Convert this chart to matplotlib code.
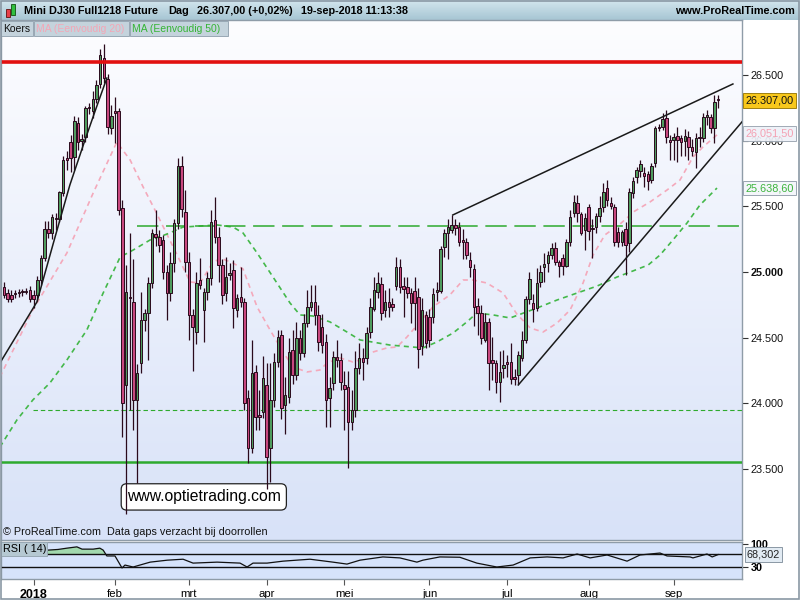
import numpy as np
import pandas as pd
import matplotlib
matplotlib.use('Agg')
import matplotlib.pyplot as plt
from matplotlib.patches import Rectangle

plt.rcParams['font.family'] = ['Liberation Sans', 'DejaVu Sans']

# ---- data ----
dates = pd.bdate_range('2017-12-19', '2018-09-19').drop(
    pd.to_datetime(['2017-12-25', '2018-01-01', '2018-03-30']))

opens = [24888, 24838, 24825, 24835, 24840, 24845, 24848, 24863, 24825, 24825,
         24940, 25110, 25327, 25300, 25400, 25400, 25600, 25865, 25990, 25875,
         26134, 26000, 26027, 26245, 26225, 26316, 26430, 26628, 26469, 26095,
         26225, 26225, 25487, 24140, 24810, 24772, 24026, 24307, 24635, 24688,
         24916, 25290, 25266, 25243, 25000, 24840, 25068, 25373, 25807, 25457,
         25076, 24673, 24543, 24940, 24711, 24848, 24955, 25396, 25266, 25053,
         24840, 24975, 25015, 24711, 24810, 24770, 24041, 23661, 24239, 23905,
         23935, 24140, 23661, 24026, 24315, 24521, 23988, 24049, 24406, 24216,
         24498, 24384, 24612, 24733, 24772, 24673, 24581, 24467, 24041, 24155,
         24353, 24330, 24140, 24125, 23858, 23950, 24269, 24345, 24345, 24543,
         24718, 24848, 24909, 24711, 24772, 24756, 24893, 25038, 24893, 24886,
         24840, 24855, 24810, 24437, 24673, 24657, 24657, 24850, 24855, 25190,
         25297, 25320, 25358, 25342, 25240, 25228, 25091, 25023, 24741, 24688,
         24483, 24619, 24330, 24307, 24163, 24269, 24315, 24315, 24200, 24216,
         24345, 24483, 24795, 24764, 24726, 24924, 25038, 25068, 25129, 25183,
         25076, 25107, 25046, 25228, 25449, 25525, 25441, 25320, 25495, 25330,
         25342, 25426, 25495, 25640, 25525, 25495, 25305, 25228, 25327, 25221,
         25601, 25723, 25769, 25753, 25746, 25700, 25829, 26096, 26103, 26172,
         26005, 26005, 26035, 26020, 25997, 26027, 25951, 25913, 26020, 26020,
         26180, 26180, 26096, 26320]
highs = [24920, 24870, 24860, 24860, 24870, 24870, 24880, 24890, 24860, 24970,
         25130, 25390, 25390, 25440, 25450, 25620, 25880, 25920, 26040, 26190,
         26180, 26050, 26260, 26290, 26380, 26460, 26700, 26735, 26510, 26270,
         26330, 26250, 25550, 25050, 25297, 25100, 24300, 24850, 24720, 24960,
         25330, 25472, 25320, 25280, 25050, 25150, 25400, 25868, 25880, 25624,
         25150, 24720, 25000, 25107, 24880, 25000, 25470, 25571, 25340, 25100,
         25114, 25070, 25090, 24830, 25040, 24800, 24100, 24483, 24290, 24100,
         24360, 24310, 24307, 24380, 24560, 24560, 24200, 24500, 24560, 24620,
         24560, 24680, 24863, 24900, 24900, 24750, 24680, 24530, 24200, 24400,
         24483, 24380, 24250, 24250, 24100, 24400, 24460, 24420, 24580, 24802,
         24960, 25000, 24960, 24860, 24880, 24800, 25114, 25100, 24960, 24960,
         24880, 24960, 24880, 24800, 24700, 24720, 24880, 24920, 25200, 25330,
         25400, 25434, 25400, 25380, 25330, 25260, 25150, 25060, 24800, 24750,
         24690, 24650, 24505, 24330, 24400, 24406, 24370, 24460, 24260, 24400,
         24550, 24820, 25000, 24830, 25030, 25050, 25145, 25160, 25221, 25230,
         25090, 25140, 25250, 25472, 25586, 25586, 25460, 25450, 25520, 25400,
         25450, 25580, 25677, 25700, 25570, 25520, 25340, 25320, 25380, 25640,
         25720, 25800, 25852, 25800, 25770, 25830, 26110, 26130, 26210, 26230,
         26040, 26060, 26103, 26040, 26090, 26070, 26010, 26060, 26100, 26210,
         26233, 26200, 26347, 26347]
lows = [24800, 24775, 24770, 24800, 24810, 24820, 24830, 24770, 24726, 24780,
        24900, 25080, 25260, 25250, 25320, 25380, 25580, 25780, 25760, 25780,
        25930, 25930, 25990, 26200, 26170, 26290, 26400, 26440, 26050, 26050,
        25980, 25430, 23744, 23160, 23950, 23800, 23394, 24230, 24550, 24330,
        24880, 25200, 25150, 24950, 24635, 24780, 25000, 25330, 25420, 25000,
        24480, 24250, 24450, 24870, 24470, 24790, 24900, 25220, 24920, 24760,
        24780, 24940, 24574, 24660, 24730, 23950, 23546, 23620, 23800, 23800,
        23890, 23350, 23400, 23970, 24280, 23880, 23770, 24000, 24150, 24180,
        24330, 24350, 24580, 24700, 24600, 24400, 24380, 23820, 23820, 24100,
        24280, 24100, 23800, 23508, 23800, 23900, 24220, 24178, 24300, 24500,
        24700, 24800, 24635, 24660, 24657, 24700, 24860, 24840, 24657, 24800,
        24612, 24560, 24269, 24370, 24420, 24430, 24612, 24780, 24840, 25114,
        25100, 25300, 25280, 25200, 25100, 25100, 24962, 24590, 24520, 24450,
        24470, 24102, 24180, 24080, 24010, 24190, 24200, 24150, 24140, 24150,
        24320, 24460, 24760, 24620, 24700, 24886, 24924, 25000, 25100, 25050,
        24962, 24980, 25040, 25200, 25420, 25380, 25280, 25167, 25240, 25107,
        25300, 25380, 25460, 25500, 25480, 25200, 25190, 25200, 24977, 25152,
        25560, 25680, 25720, 25650, 25624, 25680, 25800, 26070, 26080, 25980,
        25852, 25850, 25837, 25880, 25880, 25850, 25880, 25791, 25950, 25990,
        26120, 26060, 25982, 26250]
closes = [24825, 24792, 24792, 24840, 24845, 24850, 24852, 24792, 24792, 24940,
          25107, 25327, 25300, 25420, 25405, 25610, 25852, 25850, 25870, 26150,
          25990, 26010, 26248, 26250, 26316, 26423, 26651, 26476, 26103, 26187,
          26210, 25472, 24003, 24848, 24800, 24026, 24231, 24635, 24688, 24916,
          25297, 25270, 25205, 25000, 24840, 25068, 25373, 25807, 25479, 25076,
          24673, 24582, 24916, 24900, 24848, 24955, 25380, 25266, 25053, 24825,
          24962, 24995, 24726, 24802, 24770, 24003, 23661, 24231, 23896, 23900,
          24193, 23592, 24026, 24315, 24505, 23965, 24064, 24391, 24216, 24498,
          24384, 24612, 24733, 24772, 24673, 24467, 24445, 24026, 24117, 24353,
          24330, 24163, 24110, 23858, 23950, 24269, 24345, 24315, 24536, 24733,
          24863, 24916, 24688, 24772, 24733, 24733, 25038, 24886, 24870, 24840,
          24764, 24764, 24414, 24711, 24460, 24483, 24833, 24860, 25175, 25297,
          25342, 25358, 25335, 25228, 25225, 25129, 25038, 24733, 24688, 24498,
          24619, 24307, 24307, 24163, 24239, 24292, 24300, 24186, 24186, 24368,
          24483, 24795, 24947, 24718, 24916, 25000, 25061, 25129, 25183, 25076,
          25046, 25046, 25228, 25419, 25533, 25449, 25297, 25411, 25312, 25338,
          25426, 25487, 25609, 25548, 25502, 25228, 25228, 25305, 25205, 25609,
          25692, 25776, 25822, 25730, 25692, 25807, 26096, 26103, 26164, 26027,
          25990, 26027, 26005, 25990, 26035, 25951, 25921, 26020, 26030, 26180,
          26195, 26096, 26294, 26307]

# moving averages as drawn (candle index, value)
ma20_idx = [-1.1, 7.8, 17.0, 24.1, 30.5, 34.1, 37.6, 40.8, 46.8, 50.3, 53.0, 56.2,
            58.4, 61.9, 64.6, 68.4, 71.9, 75.1, 78.1, 81.9, 85.4, 87.3, 90.8, 94.3,
            96.2, 98.9, 103.5, 106.2, 108.9, 112.4, 115.9, 120.5, 124.1, 126.8,
            130.5, 134.9, 138.6, 142.2, 145.7, 149.5, 153.0, 156.5, 159.2, 162.4,
            166.5, 170.5, 174.6, 179.2, 182.7, 186.2, 188.9, 193.0]
ma20_val = [24201, 24711, 25145, 25601, 25989, 25852, 25647, 25472, 25129, 24924,
            24916, 25061, 25107, 25068, 25023, 24734, 24559, 24406, 24277, 24239,
            24254, 24307, 24346, 24315, 24330, 24384, 24422, 24429, 24505, 24620,
            24734, 24825, 24939, 24939, 24916, 24840, 24680, 24574, 24543, 24612,
            24711, 24916, 25129, 25282, 25365, 25464, 25533, 25624, 25700, 25875,
            25951, 26051]
ma50_idx = [-1.1, 3.5, 7.8, 12.4, 17.0, 22.4, 26.8, 31.4, 34.9, 39.5, 44.1, 48.4,
            53.0, 57.6, 61.9, 64.6, 68.4, 72.7, 77.3, 80.0, 83.5, 88.1, 92.7, 96.2,
            104.3, 113.2, 117.0, 121.4, 125.1, 127.8, 132.2, 136.8, 144.1, 149.5,
            154.9, 160.3, 165.7, 170.0, 174.1, 177.3, 180.8, 184.6, 188.1, 192.7]
ma50_val = [23668, 23874, 24026, 24155, 24330, 24559, 24840, 25114, 25167, 25244,
            25289, 25342, 25350, 25358, 25342, 25297, 25145, 24962, 24764, 24673,
            24665, 24620, 24543, 24483, 24444, 24422, 24467, 24536, 24620, 24688,
            24673, 24650, 24726, 24787, 24840, 24893, 24962, 25008, 25053, 25129,
            25244, 25373, 25510, 25639]

rsi_idx = [11.9, 14.6, 17.0, 19.7, 21.1, 24.1, 25.9, 26.8, 27.8, 30.0, 31.9, 32.7,
           34.9, 39.5, 44.1, 48.4, 51.1, 57.6, 63.8, 65.7, 67.3, 71.1, 75.4, 82.7,
           88.9, 92.7, 96.2, 102.4, 107.0, 111.6, 113.2, 117.8, 123.2, 127.8,
           133.2, 137.6, 142.2, 146.8, 151.1, 154.9, 158.4, 163.0, 168.4, 171.9,
           177.3, 179.2, 185.4, 186.2, 190.0, 191.4, 193.0]
rsi_val = [82, 84, 88, 92, 85, 85, 88, 82, 64, 64, 27, 36, 30, 45, 51, 54, 42, 45,
           42, 30, 42, 42, 48, 54, 45, 39, 51, 61, 58, 45, 51, 61, 60, 42, 30, 36,
           58, 61, 58, 70, 58, 67, 48, 67, 73, 64, 61, 58, 70, 61, 68.302]

# drawn levels and trendlines
resistance = 26600
support = 23554
level_long_dash = 25350
level_short_dash = 23950
jan_trend_idx = [-1.1, 8.9, 13.8, 17.8, 21.9, 25.1, 27.8]
jan_trend_val = [24307, 24772, 25266, 25662, 26005, 26263, 26476]
wedge_top_idx = [121.3, 197.0]
wedge_top_val = [25434, 26431]
wedge_bot_idx = [139.0, 199.5]
wedge_bot_val = [24140, 26144]

# ---- styling ----
GREEN = '#4f9c5e'
PINK = '#c8487f'
WICK = '#2a0a1c'
FS = 7.8
X0, X1 = -0.81, 199.46


def fx(px):
    return px / 800


def fy(py):
    return 1 - py / 600


def gradient(ax, top, bottom):
    c1 = np.array(matplotlib.colors.to_rgb(top))
    c2 = np.array(matplotlib.colors.to_rgb(bottom))
    t = np.linspace(0, 1, 256)[:, None]
    img = (c1 * (1 - t) + c2 * t).reshape(256, 1, 3)
    ax.imshow(img, extent=[0, 1, 0, 1], transform=ax.transAxes,
              aspect='auto', zorder=0, origin='upper', interpolation='bilinear')


fig = plt.figure(figsize=(8, 6), dpi=100, facecolor='white')

# header bar
ax_h = fig.add_axes([0, fy(20), 1, 20 / 600])
gradient(ax_h, '#d3e6ee', '#a6c5d3')
ax_h.set_xlim(0, 1)
ax_h.set_ylim(0, 1)
ax_h.axis('off')
fig.add_artist(Rectangle((fx(6), fy(17)), fx(4), 8 / 600, transform=fig.transFigure,
                         fc='#e8404a', ec='#601010', lw=0.6))
fig.add_artist(Rectangle((fx(11), fy(15)), fx(4), 11 / 600, transform=fig.transFigure,
                         fc='#30c040', ec='#105010', lw=0.6))
for px, s in [(24, 'Mini DJ30 Full1218 Future'), (168, 'Dag'),
              (197, '26.307,00 (+0,02%)'), (301, '19-sep-2018 11:13:38')]:
    fig.text(fx(px), fy(10.5), s, fontsize=FS, fontweight='bold', va='center')
fig.text(fx(795), fy(10.5), 'www.ProRealTime.com', fontsize=FS, fontweight='bold',
         va='center', ha='right')

# ---- main price panel ----
ax = fig.add_axes([fx(1), fy(540), 741 / 800, 520 / 600])
ax.set_autoscale_on(False)
gradient(ax, '#fdfdff', '#d8e2f8')
ax.set_xlim(X0, X1)
ax.set_ylim(22960, 26918)

x = np.arange(len(closes))
o, h, l, c = (np.array(v, dtype=float) for v in (opens, highs, lows, closes))
up = c >= o
body_lo = np.minimum(o, c)
body_h = np.maximum(np.abs(c - o), 8)
ax.vlines(x, l, h, color=WICK, lw=0.9, zorder=4)
ax.bar(x[up], body_h[up], 0.66, bottom=body_lo[up], color=GREEN, edgecolor=WICK,
       lw=0.7, zorder=5)
ax.bar(x[~up], body_h[~up], 0.66, bottom=body_lo[~up], color=PINK, edgecolor=WICK,
       lw=0.7, zorder=5)

ax.plot(ma20_idx, ma20_val, color='#f4a9bb', lw=1.2, ls=(0, (3, 2.5)), zorder=3)
ax.plot(ma50_idx, ma50_val, color='#44b84a', lw=1.2, ls=(0, (3, 2.5)), zorder=3)

ax.axhline(resistance, color='#e21010', lw=2.6, zorder=6)
ax.axhline(support, color='#2eaa2e', lw=1.8, zorder=3)
ax.plot([35.9, X1], [level_long_dash] * 2, color='#2eaa2e', lw=1.1,
        ls=(0, (14, 5)), zorder=3)
ax.plot([7.8, X1], [level_short_dash] * 2, color='#2eaa2e', lw=0.8,
        ls=(0, (4, 2.6)), zorder=3)

ax.plot(jan_trend_idx, jan_trend_val, color='#1a1a1a', lw=1.1, zorder=6)
ax.plot(wedge_top_idx, wedge_top_val, color='#1a1a1a', lw=1.1, zorder=6)
ax.plot(wedge_bot_idx, wedge_bot_val, color='#1a1a1a', lw=1.1, zorder=6)

# watermark box (candle wicks run over it)
ax.text(54.0, 23288, 'www.optietrading.com', fontsize=11.3, ha='center', va='center',
        zorder=2, bbox=dict(boxstyle='round,pad=0.36,rounding_size=0.35',
                            fc='white', ec='#222222', lw=0.9))

yt = [23500, 24000, 24500, 25000, 25500, 26000, 26500]
ax.yaxis.tick_right()
ax.set_yticks(yt, [f'{v:,}'.replace(',', '.') for v in yt])
for lab, v in zip(ax.get_yticklabels(), yt):
    if v == 25000:
        lab.set_fontweight('bold')
ax.tick_params(axis='y', length=4, width=0.8, color='#333333', pad=2,
               labelsize=FS, labelcolor='#111111')
ax.tick_params(axis='x', bottom=False, labelbottom=False)
for sp in ax.spines.values():
    sp.set_color('#8f9ca8')
    sp.set_linewidth(1)

ytr = ax.get_yaxis_transform()
ax.text(1.005, 26307, '26.307,00', transform=ytr, fontsize=FS, va='center',
        ha='left', color='#111111', clip_on=False, zorder=10,
        bbox=dict(boxstyle='square,pad=0.22', fc='#f8c81c', ec='#a08010', lw=0.7))
ax.text(1.005, 26051.5, '26.051,50', transform=ytr, fontsize=FS, va='center',
        ha='left', color='#f4a0b2', clip_on=False, zorder=10,
        bbox=dict(boxstyle='square,pad=0.22', fc='#eef1f8', ec='#9aa4b0', lw=0.7,
                  alpha=0.92))
ax.text(1.005, 25638.6, '25.638,60', transform=ytr, fontsize=FS, va='center',
        ha='left', color='#3cb43c', clip_on=False, zorder=10,
        bbox=dict(boxstyle='square,pad=0.22', fc='#f4f6fa', ec='#9aa4b0', lw=0.7))

# legend boxes under the header
for (x0, x1, s, col) in [(1, 33, 'Koers', '#111111'),
                         (34, 129, 'MA (Eenvoudig 20)', '#f4a6b6'),
                         (130, 228, 'MA (Eenvoudig 50)', '#35b535')]:
    fig.add_artist(Rectangle((fx(x0), fy(36)), fx(x1 - x0), 15 / 600,
                             transform=fig.transFigure, fc='#c4d3dc', ec='#98a8b4',
                             lw=0.7))
    fig.text(fx(x0 + 2.5), fy(28.5), s, fontsize=7.5, color=col, va='center')

fig.text(fx(3), fy(532), '\u00a9 ProRealTime.com  Data gaps verzacht bij doorrollen',
         fontsize=FS, va='center', color='#111111')

# ---- RSI panel ----
ax_r = fig.add_axes([fx(1), fy(579), 741 / 800, 37.5 / 600])
ax_r.set_autoscale_on(False)
ax_r.set_facecolor('#d6e3fb')
ax_r.set_xlim(X0, X1)
ax_r.set_ylim(-6.9, 108.5)
rv = np.array(rsi_val)
ax_r.fill_between(rsi_idx, rv, 70, where=rv > 70, interpolate=True,
                  color='#a2d9ae', lw=0, zorder=2)
ax_r.axhline(70, color='#111111', lw=1, zorder=3)
ax_r.axhline(30, color='#111111', lw=1, zorder=3)
ax_r.plot(rsi_idx, rsi_val, color='#111111', lw=0.9, zorder=4)

ax_r.yaxis.tick_right()
ax_r.set_yticks([30, 100], ['30', '100'])
for lab in ax_r.get_yticklabels():
    lab.set_fontweight('bold')
ax_r.tick_params(axis='y', length=4, width=0.8, color='#333333', pad=2,
                 labelsize=FS)

month_pos, month_lab = [], []
nl = {1: '2018', 2: 'feb', 3: 'mrt', 4: 'apr', 5: 'mei', 6: 'jun', 7: 'jul',
      8: 'aug', 9: 'sep'}
for i in range(1, len(dates)):
    if dates[i].month != dates[i - 1].month:
        month_pos.append(i)
        month_lab.append(nl[dates[i].month])
ax_r.set_xticks(month_pos, month_lab)
ax_r.tick_params(axis='x', length=4, width=0.8, color='#555555', pad=3,
                 labelsize=FS + 0.4)
for lab in ax_r.get_xticklabels():
    if lab.get_text() == '2018':
        lab.set_fontweight('bold')
        lab.set_fontsize(FS + 1.2)
for sp in ax_r.spines.values():
    sp.set_color('#8f9ca8')
    sp.set_linewidth(1)

fig.add_artist(Rectangle((fx(1), fy(556)), fx(46), 14 / 600, transform=fig.transFigure,
                         fc='#b5c8d2', ec='#98a8b4', lw=0.7))
fig.text(fx(3), fy(548.5), 'RSI ( 14)', fontsize=FS, va='center')
ax_r.text(1.0065, 68.302, '68,302', transform=ax_r.get_yaxis_transform(), fontsize=FS,
          va='center', ha='left', color='#222222', clip_on=False, zorder=10,
          bbox=dict(boxstyle='square,pad=0.2', fc='#e2ebf3', ec='#8a98a4', lw=0.7))

# outer frame
fig.add_artist(Rectangle((0.0008, 0.001), 0.998, 0.998, transform=fig.transFigure,
                         fill=False, ec='#8a98a4', lw=1.2))

fig.savefig('out.png', dpi=100)
